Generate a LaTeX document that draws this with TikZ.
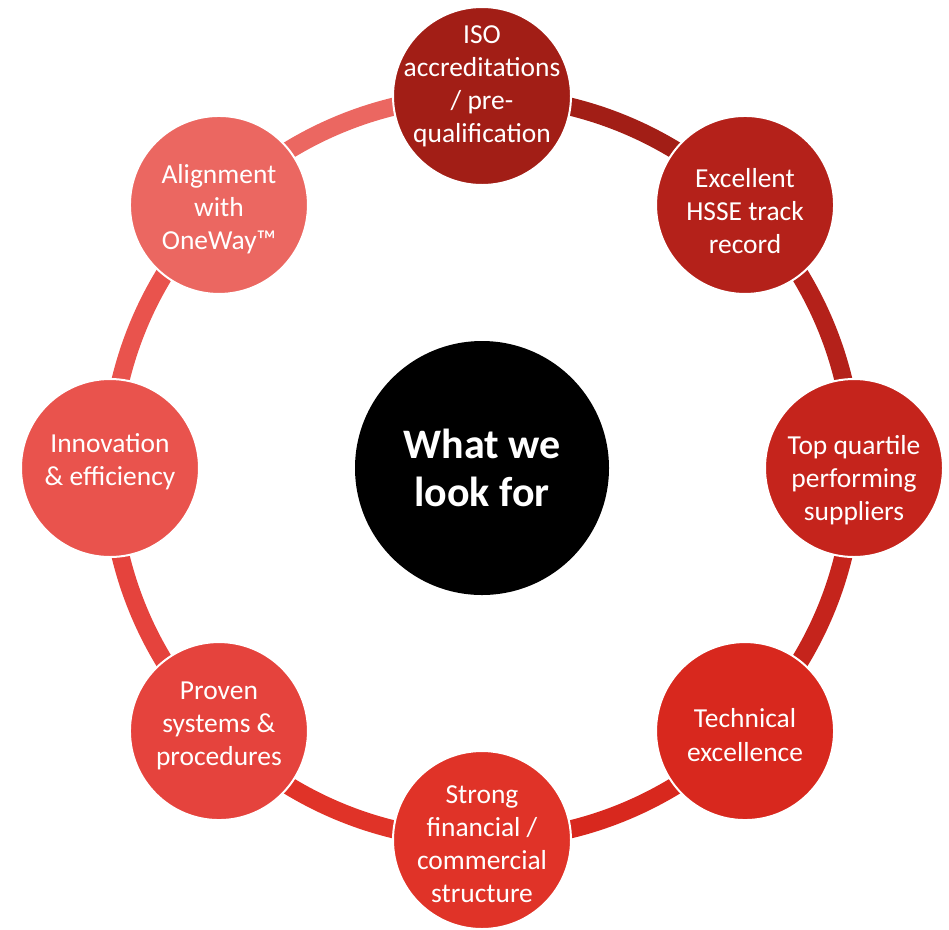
\documentclass[tikz,border=0pt]{standalone}
\usepackage{fontspec}
\setmainfont{Carlito}
\usepackage{xcolor}
\usepackage{tikz}
\usetikzlibrary{positioning,backgrounds}

\definecolor{isored}{HTML}{A21E16}
\definecolor{hssered}{HTML}{B4211A}
\definecolor{quartred}{HTML}{C5241C}
\definecolor{techred}{HTML}{D8281E}
\definecolor{finred}{HTML}{E03328}
\definecolor{provred}{HTML}{E5433D}
\definecolor{innored}{HTML}{E9534D}
\definecolor{alignred}{HTML}{EB6761}

\begin{document}
\begin{tikzpicture}[
		x=0.75pt, y=0.75pt,
		% circles around the ring
		topic/.style={
			circle, draw=white, line width=1.5pt,
			minimum size=133.5pt, inner sep=0pt
		},
		% their text, nudged up or down a little
		topictext/.style={
			align=center, text=white, inner sep=0pt,
			font=\fontsize{20.6}{24.75}\selectfont
		},
		% black circle in the middle
		hubnode/.style={
			circle, fill=black,
			minimum size=190.5pt, inner sep=0pt,
			align=center, text=white,
			font=\bfseries\fontsize{31.5}{35.5}\selectfont
		},
		% ring pieces between the circles
		ringarc/.style={line width=13.5pt}
		]
		
		\useasboundingbox (0,0) rectangle (949,-929);
		\coordinate (o) at (482,-468);
		
		% --- middle ---
		\node[hubnode] (hub) at (o) {What we\\look for};
		
		% --- ring, clockwise from the top ---
		\node[topic, fill=isored, label={[topictext, yshift=7pt]center:{ISO\\accreditations\\/ pre-\\qualification}}] (iso) at ([shift={(90:372)}]o) {};
		\node[topic, fill=hssered, label={[topictext, yshift=-4.5pt]center:{Excellent\\HSSE track\\record}}] (hsse) at ([shift={(45:372)}]o) {};
		\node[topic, fill=quartred, label={[topictext, yshift=-9pt]center:{Top quartile\\performing\\suppliers}}] (quart) at ([shift={(0:372)}]o) {};
		\node[topic, fill=techred, label={[topictext, yshift=-3pt]center:{Technical\\excellence}}] (tech) at ([shift={(-45:372)}]o) {};
		\node[topic, fill=finred, label={[topictext, yshift=-3.5pt]center:{Strong\\financial /\\commercial\\structure}}] (fin) at ([shift={(-90:372)}]o) {};
		\node[topic, fill=provred, label={[topictext, yshift=4pt]center:{Proven\\systems \&\\procedures}}] (prov) at ([shift={(-135:372)}]o) {};
		\node[topic, fill=innored, label={[topictext, yshift=4.5pt]center:{Innovation\\\& efficiency}}] (inno) at ([shift={(180:372)}]o) {};
		\node[topic, fill=alignred, label={[topictext, yshift=-3pt]center:{Alignment\\with\\OneWay™}}] (align) at ([shift={(135:372)}]o) {};
		
		% ring pieces, each in the colour of the circle it leaves
		\begin{scope}[on background layer]
			\foreach \from/\a/\b/\col in {iso/90/45/isored, hsse/45/0/hssered,
				quart/0/-45/quartred, tech/-45/-90/techred, fin/-90/-135/finred,
				prov/-135/-180/provred, inno/180/135/innored, align/135/90/alignred}
			\draw[ringarc, \col] (\from.center) arc[start angle=\a, end angle=\b, radius=372];
		\end{scope}
		
	\end{tikzpicture}
\end{document}
